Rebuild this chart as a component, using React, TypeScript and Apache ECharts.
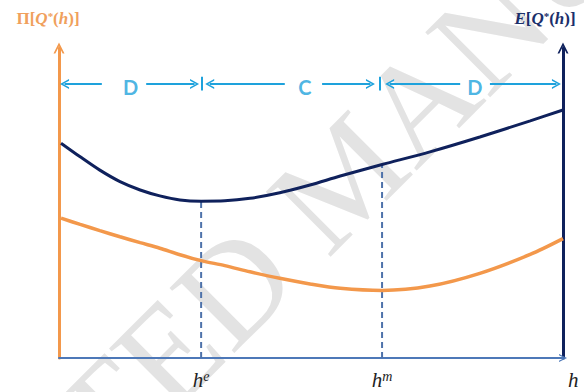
import React, { useEffect, useRef } from 'react';
import * as echarts from 'echarts';

// h positions (0..100 scale of the horizontal axis)
const hValues = [0.4, 4.2, 8.1, 12.1, 16.1, 20.0, 24.0, 28.2, 32.9, 37.9, 43.8, 49.8, 55.8, 64.1, 73.6, 83.5, 93.5, 100];
// E[Q*(h)] curve (navy)
const expectedValues = [69.3, 64.9, 60.6, 56.9, 54.2, 52.3, 51.0, 50.6, 50.7, 51.5, 53.3, 55.8, 58.7, 62.4, 66.5, 71.3, 76.5, 80.0];
// Π[Q*(h)] curve (orange)
const profitValues = [45.1, 43.1, 41.1, 39.1, 37.2, 35.4, 33.3, 31.4, 29.8, 27.8, 25.7, 23.9, 22.5, 21.8, 23.2, 27.3, 33.4, 38.5];

// marker positions h^e and h^m
const markerH = [28.2, 64.1];
const markerTop = [50.6, 62.4];
const markerSup = ['e', 'm'];

// region annotations D / C / D
const regionLabels = ['D', 'C', 'D'];
const regionLabelX = [14.2, 48.8, 82.5];
const regionY = 88.4;
// arrow segments
const regionSegStart = [1.1, 17.3, 29.9, 52.2, 65.6, 85.5];
const regionSegEnd = [8.5, 26.9, 44.8, 61.8, 79.6, 98.7];
const regionArrowAtStart = [true, false, true, false, true, false];
const regionTicks = [28.4, 63.6];

const ORANGE = '#f3984b';
const NAVY = '#0f215c';
const AXISBLUE = '#4d78b8';
const DASH = '#4e72aa';
const LIGHTBLUE = '#1ea2dc';

const chevron = 'path://M0,12 L6,0 L12,12 L10,12 L6,4 L2,12 Z';

export default function App() {
  const ref = useRef<HTMLDivElement>(null);
  useEffect(() => {
    if (!ref.current) return;
    const chart = echarts.init(ref.current, null, { renderer: 'svg' });

    const titleRich = (color: string) => ({
      p: { fontFamily: 'Liberation Serif', fontWeight: 'bold', fontSize: 17, color },
      i: { fontFamily: 'Liberation Serif', fontWeight: 'bold', fontStyle: 'italic', fontSize: 17, color },
      s: { fontFamily: 'Liberation Serif', fontWeight: 'bold', fontSize: 11, color, verticalAlign: 'top' },
    });
    const leftTitle = '{p|Π[}{i|Q}{s|*}{p|(}{i|h}{p|)]}';
    const rightTitle = '{i|E}{p|[}{i|Q}{s|*}{p|(}{i|h}{p|)]}';

    const markLineData: any[] = regionSegStart.map((s, i) => [
      {
        coord: [s, regionY],
        symbol: regionArrowAtStart[i] ? chevron : 'none',
        symbolSize: [10, 9],
      },
      {
        coord: [regionSegEnd[i], regionY],
        symbol: regionArrowAtStart[i] ? 'none' : chevron,
        symbolSize: [10, 9],
      },
    ]);
    regionTicks.forEach((t) => {
      markLineData.push([
        { coord: [t, regionY - 2.1], symbol: 'none' },
        { coord: [t, regionY + 2.3], symbol: 'none' },
      ]);
    });

    const option: any = {
      animation: false,
      graphic: [
        {
          type: 'text',
          x: 345,
          y: 175,
          rotation: Math.PI / 4,
          silent: true,
          z: -10,
          style: {
            text: 'ACCEPTED MANUSCRIPT',
            fontSize: 140,
            fontFamily: 'Liberation Serif',
            fill: '#e3e3e3',
            align: 'center',
            verticalAlign: 'middle',
            textAlign: 'center',
            textVerticalAlign: 'middle',
          },
        },
      ],
      grid: { left: 59, right: 21, top: 48, bottom: 34, containLabel: false },
      xAxis: {
        type: 'value',
        min: 0,
        max: 100,
        name: 'h',
        nameLocation: 'end',
        nameGap: 5,
        nameTextStyle: {
          fontFamily: 'Liberation Serif',
          fontStyle: 'italic',
          fontSize: 21,
          color: '#222',
          verticalAlign: 'top',
          padding: [11, 0, 0, 0],
        },
        axisLine: {
          show: true,
          onZero: false,
          lineStyle: { color: AXISBLUE, width: 2 },
          symbol: ['none', chevron],
          symbolSize: [9, 8],
        },
        axisTick: { show: false },
        splitLine: { show: false },
        axisLabel: {
          show: true,
          customValues: markerH,
          margin: 11,
          formatter: (v: number) => {
            const idx = markerH.indexOf(v);
            return idx >= 0 ? `{h|h}{s|${markerSup[idx]}}` : '';
          },
          rich: {
            h: { fontFamily: 'Liberation Serif', fontStyle: 'italic', fontSize: 21, color: '#222' },
            s: { fontFamily: 'Liberation Serif', fontStyle: 'italic', fontSize: 14, color: '#222', verticalAlign: 'top' },
          },
        },
      },
      yAxis: [
        {
          type: 'value',
          position: 'left',
          min: 0,
          max: 100,
          name: leftTitle,
          nameLocation: 'end',
          nameGap: 21,
          nameTextStyle: { padding: [0, 22, 0, 0], rich: titleRich('#f0a05c') },
          axisLine: {
            show: true,
            onZero: false,
            lineStyle: { color: ORANGE, width: 3 },
            symbol: ['none', chevron],
            symbolSize: [11, 12],
          },
          axisTick: { show: false },
          axisLabel: { show: false },
          splitLine: { show: false },
        },
        {
          type: 'value',
          position: 'right',
          min: 0,
          max: 100,
          name: rightTitle,
          nameLocation: 'end',
          nameGap: 21,
          nameTextStyle: { padding: [0, 36, 0, 0], rich: titleRich('#1b2f6b') },
          axisLine: {
            show: true,
            onZero: false,
            lineStyle: { color: NAVY, width: 3 },
            symbol: ['none', chevron],
            symbolSize: [11, 12],
          },
          axisTick: { show: false },
          axisLabel: { show: false },
          splitLine: { show: false },
        },
      ],
      series: [
        ...markerH.map((h, i) => ({
          type: 'line',
          name: 'marker' + i,
          data: [
            [h, 0],
            [h, markerTop[i]],
          ],
          showSymbol: false,
          symbol: 'none',
          lineStyle: { color: DASH, width: 2, type: [6, 4] },
          z: 1,
        })),
        {
          type: 'line',
          name: 'Π[Q*(h)]',
          data: hValues.map((h, i) => [h, profitValues[i]]),
          smooth: 0.3,
          showSymbol: false,
          symbol: 'none',
          lineStyle: { color: ORANGE, width: 3.5 },
          z: 3,
        },
        {
          type: 'line',
          name: 'E[Q*(h)]',
          data: hValues.map((h, i) => [h, expectedValues[i]]),
          smooth: 0.3,
          showSymbol: false,
          symbol: 'none',
          lineStyle: { color: NAVY, width: 3 },
          z: 3,
        },
        {
          type: 'scatter',
          name: 'regions',
          data: regionLabels.map((l, i) => ({ name: l, value: [regionLabelX[i], regionY] })),
          symbolSize: 1,
          itemStyle: { color: 'rgba(0,0,0,0)' },
          label: {
            show: true,
            position: 'inside',
            formatter: (p: any) => p.name,
            fontFamily: 'Lato',
            fontWeight: 'bold',
            fontSize: 20,
            color: LIGHTBLUE,
            offset: [0, 3],
          },
          markLine: {
            silent: true,
            animation: false,
            label: { show: false },
            lineStyle: { color: LIGHTBLUE, width: 2, type: 'solid' },
            data: markLineData,
          },
          z: 4,
        },
      ],
    };
    chart.setOption(option);
    return () => chart.dispose();
  }, []);
  return (
    <div
      ref={ref}
      style={{ position: 'fixed', left: 0, top: 0, width: 584, height: 392, background: '#fff' }}
    />
  );
}
